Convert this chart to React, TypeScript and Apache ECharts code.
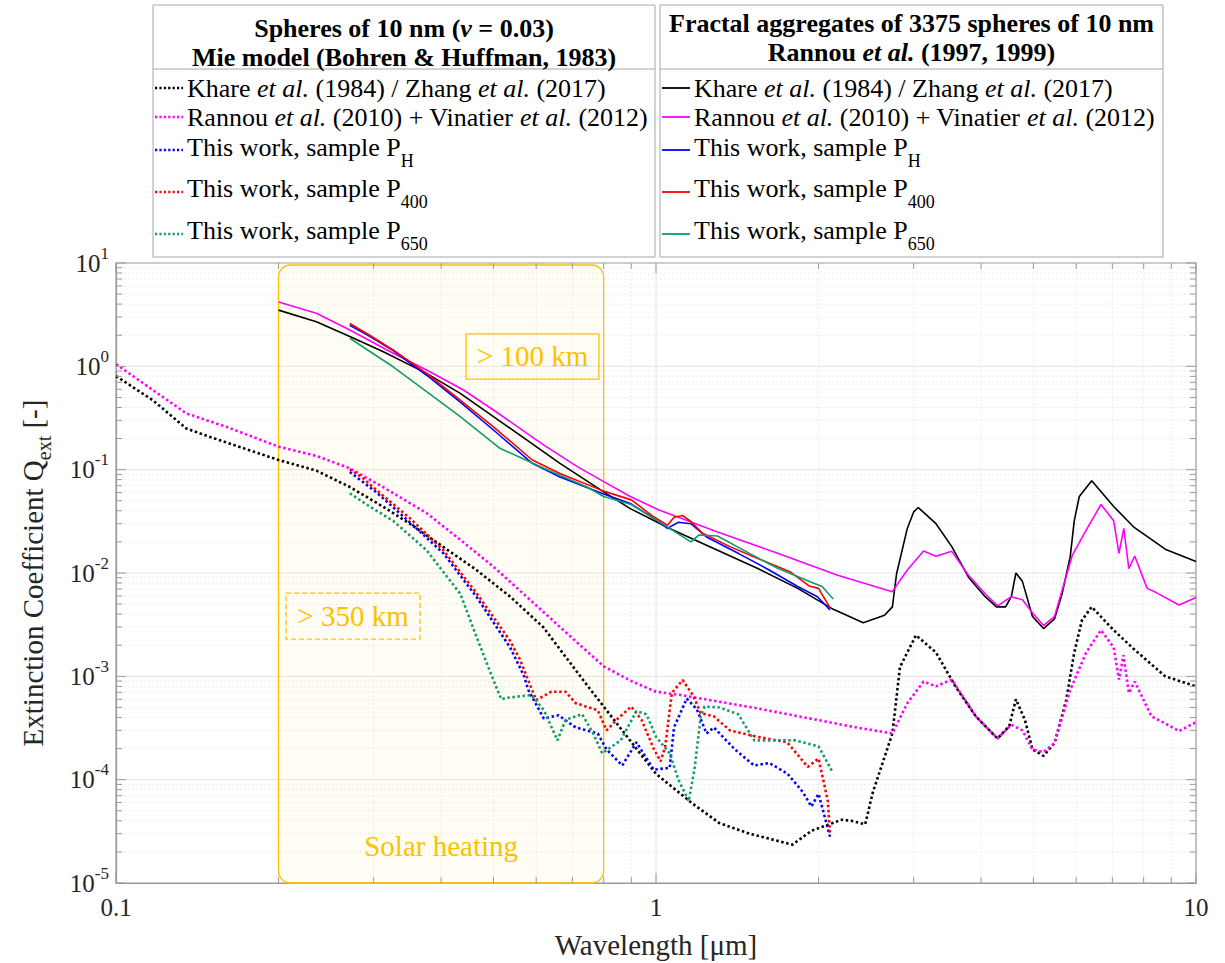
import React, { useEffect, useRef } from "react";
import * as echarts from "echarts";

const SERIF = "'Liberation Serif', 'Times New Roman', Times, serif";
const GOLD = "#FFC000";
const C_BLACK = "#000000";
const C_MAG = "#FF00FF";
const C_BLUE = "#0000FF";
const C_RED = "#FF0000";
const C_GREEN = "#139A6E";
const AXIS_C = "#9a9a9a";
const LABEL_C = "#262626";

// ---- Data: [wavelength (μm), Q_ext] ----
// Spheres (Mie) — dotted
const khareSpheres: [number, number][] = [
  [0.1, 0.805], [0.117, 0.47], [0.135, 0.25], [0.149, 0.208], [0.2, 0.124], [0.235, 0.098],
  [0.271, 0.068], [0.312, 0.044], [0.35, 0.03], [0.403, 0.018], [0.465, 0.0107], [0.537, 0.0059],
  [0.618, 0.003], [0.733, 0.00092], [0.8, 0.00051], [1.0, 0.000114], [1.167, 5.9e-5], [1.31, 3.8e-5],
  [1.49, 3.0e-5], [1.79, 2.35e-5], [1.94, 3.2e-5], [2.21, 4.1e-5], [2.3, 4.0e-5], [2.44, 3.7e-5],
  [2.52, 7.5e-5], [2.74, 2.8e-4], [2.83, 1.23e-3], [3.03, 2.5e-3], [3.3, 1.7e-3], [3.59, 7.9e-4],
  [3.91, 4.1e-4], [4.29, 2.5e-4], [4.51, 3.3e-4], [4.64, 6.0e-4], [4.82, 3.8e-4], [4.98, 1.96e-4],
  [5.22, 1.7e-4], [5.47, 2.26e-4], [5.75, 5.9e-4], [5.95, 1.7e-3], [6.15, 3.5e-3], [6.41, 4.7e-3],
  [7.04, 2.8e-3], [7.66, 1.85e-3], [8.77, 1.0e-3], [10, 8.0e-4],
];
const rannouSpheres: [number, number][] = [
  [0.1, 1.05], [0.117, 0.59], [0.135, 0.35], [0.16, 0.26], [0.2, 0.167], [0.235, 0.136],
  [0.271, 0.103], [0.312, 0.068], [0.376, 0.038], [0.434, 0.021], [0.5, 0.0115], [0.576, 0.0059],
  [0.664, 0.003], [0.8, 0.00125], [0.9, 0.0009], [1.0, 0.00071], [1.11, 0.00066], [1.54, 0.00049],
  [2.35, 0.00032], [2.74, 0.00028], [2.92, 0.00055], [3.13, 8.9e-4], [3.3, 8.0e-4], [3.53, 9.3e-4],
  [3.91, 4.1e-4], [4.29, 2.5e-4], [4.55, 3.4e-4], [4.77, 3.0e-4], [4.98, 1.96e-4], [5.22, 1.85e-4],
  [5.47, 2.26e-4], [5.85, 7.4e-4], [6.26, 1.7e-3], [6.67, 2.8e-3], [7.04, 1.9e-3], [7.2, 9.3e-4],
  [7.34, 1.6e-3], [7.51, 6.9e-4], [7.7, 8.9e-4], [8.27, 4.1e-4], [8.77, 3.5e-4], [9.3, 2.95e-4],
  [10, 3.6e-4],
];
const phSpheres: [number, number][] = [
  [0.271, 0.095], [0.304, 0.06], [0.35, 0.031], [0.404, 0.0155], [0.466, 0.0058], [0.537, 0.0019],
  [0.57, 0.001], [0.58, 0.00074], [0.62, 0.00039], [0.66, 0.00042], [0.71, 0.00032], [0.78, 0.00028],
  [0.81, 0.000196], [0.866, 0.000137], [0.92, 0.00023], [0.99, 0.000125], [1.06, 0.00013],
  [1.08, 0.00032], [1.14, 0.00061], [1.19, 0.00048], [1.24, 0.00028], [1.28, 0.00032], [1.4, 0.000196],
  [1.52, 0.000137], [1.62, 0.000145], [1.75, 0.000115], [1.87, 7.6e-5], [1.94, 5.5e-5], [2.0, 7.3e-5],
  [2.06, 4.1e-5], [2.1, 2.8e-5],
];
const p400Spheres: [number, number][] = [
  [0.271, 0.101], [0.285, 0.085], [0.304, 0.063], [0.35, 0.034], [0.404, 0.0166], [0.466, 0.0063],
  [0.537, 0.0022], [0.56, 0.00145], [0.576, 0.001], [0.6, 0.00059], [0.64, 0.00071], [0.68, 0.00071],
  [0.71, 0.00055], [0.78, 0.00047], [0.81, 0.0003], [0.85, 0.00039], [0.9, 0.00051], [0.94, 0.00038],
  [0.99, 0.0002], [1.02, 0.00015], [1.04, 0.00021], [1.07, 0.00069], [1.12, 0.00092], [1.17, 0.00066],
  [1.21, 0.00044], [1.28, 0.00041], [1.37, 0.0003], [1.54, 0.00026], [1.75, 0.00023], [1.91, 0.000133],
  [2.0, 0.00016], [2.08, 6.3e-5], [2.1, 3.0e-5],
];
const p650Spheres: [number, number][] = [
  [0.271, 0.059], [0.295, 0.044], [0.326, 0.032], [0.376, 0.0166], [0.434, 0.0063], [0.47, 0.0021],
  [0.5, 0.00092], [0.517, 0.0006], [0.53, 0.00062], [0.588, 0.00066], [0.62, 0.00047], [0.657, 0.00024],
  [0.68, 0.00038], [0.73, 0.00043], [0.765, 0.00028], [0.795, 0.00018], [0.86, 0.00024], [0.92, 0.00046],
  [0.96, 0.00043], [1.0, 0.00026], [1.06, 0.00018], [1.1, 0.0001], [1.15, 6.2e-5], [1.18, 0.000133],
  [1.21, 0.00041], [1.23, 0.00051], [1.31, 0.0005], [1.42, 0.00043], [1.52, 0.00024], [1.67, 0.00024],
  [1.81, 0.00024], [2.0, 0.00021], [2.12, 0.00012],
];

// Fractal aggregates — solid
const khareAggregates: [number, number][] = [
  [0.2, 3.5], [0.235, 2.7], [0.271, 1.94], [0.312, 1.39], [0.376, 0.855], [0.434, 0.548], [0.5, 0.326],
  [0.576, 0.194], [0.664, 0.115], [0.8, 0.061], [0.896, 0.042], [1.06, 0.027], [1.3, 0.0166],
  [1.54, 0.0111], [1.83, 0.0071], [2.13, 0.00445], [2.42, 0.0033], [2.65, 0.0039], [2.74, 0.0047],
  [2.79, 0.0099], [2.92, 0.027], [3.0, 0.039], [3.06, 0.043], [3.3, 0.03], [3.53, 0.018], [3.79, 0.0091],
  [4.07, 0.0059], [4.27, 0.0047], [4.44, 0.0047], [4.55, 0.0059], [4.64, 0.01], [4.77, 0.0083],
  [4.98, 0.0038], [5.22, 0.0029], [5.47, 0.0036], [5.65, 0.0063], [5.85, 0.0145], [5.95, 0.032],
  [6.08, 0.055], [6.41, 0.078], [7.04, 0.044], [7.66, 0.028], [8.77, 0.017], [10, 0.0129],
];
const rannouAggregates: [number, number][] = [
  [0.2, 4.2], [0.235, 3.26], [0.271, 2.25], [0.326, 1.34], [0.376, 0.92], [0.44, 0.59], [0.5, 0.378],
  [0.62, 0.173], [0.715, 0.107], [0.8, 0.0766], [0.896, 0.055], [1.01, 0.041], [1.3, 0.025],
  [1.68, 0.0155], [2.17, 0.0095], [2.74, 0.0066], [2.92, 0.0107], [3.13, 0.0163], [3.3, 0.0145],
  [3.53, 0.0162], [3.79, 0.0095], [4.07, 0.0063], [4.29, 0.0048], [4.55, 0.0059], [4.77, 0.0055],
  [4.98, 0.0041], [5.22, 0.0031], [5.47, 0.0038], [5.9, 0.0148], [6.26, 0.026], [6.67, 0.046],
  [7.04, 0.032], [7.2, 0.0155], [7.35, 0.027], [7.51, 0.011], [7.7, 0.0146], [8.12, 0.0071],
  [8.42, 0.0065], [9.3, 0.0049], [10, 0.0058],
];
const phAggregates: [number, number][] = [
  [0.271, 2.5], [0.295, 1.95], [0.326, 1.42], [0.376, 0.82], [0.434, 0.45], [0.5, 0.242], [0.59, 0.115],
  [0.664, 0.085], [0.8, 0.058], [0.896, 0.047], [0.99, 0.034], [1.05, 0.027], [1.1, 0.031], [1.16, 0.03],
  [1.24, 0.0223], [1.42, 0.0155], [1.62, 0.0107], [1.83, 0.0074], [1.99, 0.0059], [2.1, 0.0044],
];
const p400Aggregates: [number, number][] = [
  [0.271, 2.6], [0.295, 2.0], [0.326, 1.44], [0.376, 0.855], [0.434, 0.47], [0.5, 0.26], [0.59, 0.124],
  [0.664, 0.092], [0.8, 0.062], [0.9, 0.051], [0.99, 0.035], [1.05, 0.029], [1.08, 0.0347], [1.12, 0.036],
  [1.16, 0.0315], [1.22, 0.0242], [1.37, 0.018], [1.54, 0.0139], [1.77, 0.0103], [1.92, 0.0075],
  [2.0, 0.0071], [2.1, 0.0046],
];
const p650Aggregates: [number, number][] = [
  [0.271, 1.87], [0.326, 0.99], [0.376, 0.57], [0.434, 0.326], [0.514, 0.161], [0.62, 0.103],
  [0.745, 0.068], [0.8, 0.055], [0.9, 0.046], [1.06, 0.027], [1.16, 0.02], [1.2, 0.0233], [1.3, 0.0228],
  [1.49, 0.0155], [1.68, 0.0111], [1.92, 0.0083], [2.03, 0.0074], [2.13, 0.0056],
];

// Axis ranges and tick decades
const X_RANGE = [0.1, 10];
const Y_RANGE = [1e-5, 10];
const xDecades = [0.1, 1, 10];
const yDecades = [1e-5, 1e-4, 1e-3, 1e-2, 1e-1, 1, 10];
const minorDigits = [2, 3, 4, 5, 6, 7, 8, 9];

// Annotations (data coordinates)
const solarBand = [0.2, 0.8];
const box100 = { x: [0.445, 0.784], y: [2.06, 0.753], text: "> 100 km" };
const box350 = { x: [0.2065, 0.3656], y: [6.4e-3, 2.29e-3], text: "> 350 km" };
const solarLabel = { x: 0.4, y: 2.3e-5, text: "Solar heating" };

// Legend texts
const KHARE = "{n|Khare }{i|et al.}{n| (1984) / Zhang }{i|et al.}{n| (2017)}";
const RANNOU = "{n|Rannou }{i|et al.}{n| (2010) + Vinatier }{i|et al.}{n| (2012)}";
const PH = "{n|This work, sample P}{s|H}";
const P400 = "{n|This work, sample P}{s|400}";
const P650 = "{n|This work, sample P}{s|650}";
const legendItems = [
  { text: KHARE, color: C_BLACK },
  { text: RANNOU, color: C_MAG },
  { text: PH, color: C_BLUE },
  { text: P400, color: C_RED },
  { text: P650, color: C_GREEN },
];
const leftHeader = ["{b|Spheres of 10 nm (}{bi|ν}{b| = 0.03)}", "{b|Mie model (Bohren & Huffman, 1983)}"];
const rightHeader = ["{b|Fractal aggregates of 3375 spheres of 10 nm}", "{b|Rannou }{bi|et al.}{b| (1997, 1999)}"];

const DOT: any = [2.5, 2.6];

function lineSeries(name: string, data: [number, number][], color: string, dotted: boolean) {
  return {
    name,
    type: "line",
    data,
    symbol: "none",
    showSymbol: false,
    clip: true,
    z: dotted ? 2 : 3,
    lineStyle: dotted
      ? { color, width: 2.6, type: DOT, cap: "butt" }
      : { color, width: 1.6, type: "solid" },
  };
}

const richLegend = {
  n: { fontFamily: SERIF, fontSize: 26, fill: "#000" },
  i: { fontFamily: SERIF, fontSize: 26, fill: "#000", fontStyle: "italic" },
  s: { fontFamily: SERIF, fontSize: 18, fill: "#000", padding: [28, 0, 0, 0] },
  b: { fontFamily: SERIF, fontSize: 26, fill: "#000", fontWeight: "bold" },
  bi: { fontFamily: SERIF, fontSize: 26, fill: "#000", fontWeight: "bold", fontStyle: "italic" },
};

function buildLegend(x0: number, w: number, header: string[], headerY: number[], dotted: boolean) {
  const els: any[] = [];
  const top = 5, h = 252, div = 69;
  els.push({ type: "rect", shape: { x: x0, y: top, width: w, height: h }, style: { fill: "#fff", stroke: "#a6a6a6", lineWidth: 1 }, z: 20 });
  els.push({ type: "line", shape: { x1: x0, y1: div, x2: x0 + w, y2: div }, style: { stroke: "#a6a6a6", lineWidth: 1 }, z: 21 });
  header.forEach((t, k) => {
    els.push({
      type: "text", x: x0 + w / 2, y: headerY[k], z: 22,
      style: { text: t, rich: richLegend, fontFamily: SERIF, fontSize: 26, align: "center", verticalAlign: "middle", fill: "#000" },
    });
  });
  const textY = [88, 117, 147, 188, 230];
  const lineY = [88, 117, 150, 192, 234];
  legendItems.forEach((it, k) => {
    els.push({
      type: "line", z: 22,
      shape: { x1: x0 + 2, y1: lineY[k], x2: x0 + 30, y2: lineY[k] },
      style: dotted
        ? { stroke: it.color, lineWidth: 2.4, lineDash: [2.2, 2.2] }
        : { stroke: it.color, lineWidth: 1.8 },
    });
    els.push({
      type: "text", x: x0 + 34, y: textY[k], z: 22,
      style: { text: it.text, rich: richLegend, fontFamily: SERIF, fontSize: 26, align: "left", verticalAlign: "middle", fill: "#000" },
    });
  });
  return els;
}

const option: any = {
  animation: false,
  backgroundColor: "#ffffff",
  grid: { left: 116, top: 263, width: 1080, height: 620, show: true, borderColor: AXIS_C, borderWidth: 1.2, backgroundColor: "transparent" },
  xAxis: {
    type: "log", logBase: 10, min: X_RANGE[0], max: X_RANGE[1],
    axisLine: { show: true, lineStyle: { color: AXIS_C, width: 1.2 } },
    axisTick: { show: false }, splitLine: { show: false },
    axisLabel: {
      formatter: (v: number) => (v < 1 ? v.toFixed(1) : String(Math.round(v))),
      fontFamily: SERIF, fontSize: 25, color: LABEL_C, margin: 12,
    },
  },
  yAxis: {
    type: "log", logBase: 10, min: Y_RANGE[0], max: Y_RANGE[1],
    axisLine: { show: true, lineStyle: { color: AXIS_C, width: 1.2 } },
    axisTick: { show: false }, splitLine: { show: false },
    axisLabel: {
      formatter: (v: number) => `{b|10}{s|${Math.round(Math.log10(v))}}`,
      margin: 7,
      rich: {
        b: { fontFamily: SERIF, fontSize: 25, color: LABEL_C },
        s: { fontFamily: SERIF, fontSize: 17, color: LABEL_C, padding: [0, 0, 20, 0] },
      },
    },
  },
  series: [
    lineSeries("Khare spheres", khareSpheres, C_BLACK, true),
    lineSeries("Rannou spheres", rannouSpheres, C_MAG, true),
    lineSeries("PH spheres", phSpheres, C_BLUE, true),
    lineSeries("P400 spheres", p400Spheres, C_RED, true),
    lineSeries("P650 spheres", p650Spheres, C_GREEN, true),
    lineSeries("Khare aggregates", khareAggregates, C_BLACK, false),
    lineSeries("Rannou aggregates", rannouAggregates, C_MAG, false),
    lineSeries("PH aggregates", phAggregates, C_BLUE, false),
    lineSeries("P400 aggregates", p400Aggregates, C_RED, false),
    lineSeries("P650 aggregates", p650Aggregates, C_GREEN, false),
  ],
};

export default function App() {
  const ref = useRef<HTMLDivElement>(null);
  useEffect(() => {
    const chart = echarts.init(ref.current!, null, { renderer: "svg" });
    chart.setOption(option);
    const P = (x: number, y: number) =>
      chart.convertToPixel({ xAxisIndex: 0, yAxisIndex: 0 }, [x, y]) as number[];
    const [gl, gt] = P(X_RANGE[0], Y_RANGE[1]);
    const [gr, gb] = P(X_RANGE[1], Y_RANGE[0]);
    const g: any[] = [];

    // grid lines + ticks
    const hLine = (y: number, major: boolean) => {
      const py = P(1, y)[1];
      if (major) {
        if (py > gt + 1 && py < gb - 1)
          g.push({ type: "line", z: 0, shape: { x1: gl, y1: py, x2: gr, y2: py }, style: { stroke: "#e2e2e2", lineWidth: 1 } });
      } else {
        g.push({ type: "line", z: 0, shape: { x1: gl, y1: py, x2: gr, y2: py }, style: { stroke: "#ededed", lineWidth: 1, lineDash: [2, 2] } });
      }
      const len = major ? 10 : 6;
      g.push({ type: "line", z: 4, shape: { x1: gl, y1: py, x2: gl + len, y2: py }, style: { stroke: AXIS_C, lineWidth: 1 } });
      g.push({ type: "line", z: 4, shape: { x1: gr - len, y1: py, x2: gr, y2: py }, style: { stroke: AXIS_C, lineWidth: 1 } });
    };
    const vLine = (x: number, major: boolean) => {
      const px = P(x, 1)[0];
      if (major) {
        if (px > gl + 1 && px < gr - 1)
          g.push({ type: "line", z: 0, shape: { x1: px, y1: gt, x2: px, y2: gb }, style: { stroke: "#e2e2e2", lineWidth: 1 } });
      } else {
        g.push({ type: "line", z: 0, shape: { x1: px, y1: gt, x2: px, y2: gb }, style: { stroke: "#ededed", lineWidth: 1, lineDash: [2, 2] } });
      }
      const len = major ? 10 : 6;
      g.push({ type: "line", z: 4, shape: { x1: px, y1: gb, x2: px, y2: gb - len }, style: { stroke: AXIS_C, lineWidth: 1 } });
      g.push({ type: "line", z: 4, shape: { x1: px, y1: gt, x2: px, y2: gt + len }, style: { stroke: AXIS_C, lineWidth: 1 } });
    };
    yDecades.forEach((d) => {
      hLine(d, true);
      if (d < Y_RANGE[1]) minorDigits.forEach((m) => hLine(d * m, false));
    });
    xDecades.forEach((d) => {
      vLine(d, true);
      if (d < X_RANGE[1]) minorDigits.forEach((m) => vLine(d * m, false));
    });

    // Solar heating band
    const bx0 = P(solarBand[0], 1)[0];
    const bx1 = P(solarBand[1], 1)[0];
    g.push({
      type: "rect", z: 1,
      shape: { x: bx0, y: gt + 2, width: bx1 - bx0, height: gb - gt - 2, r: 12 },
      style: { fill: "rgba(255,200,0,0.045)", stroke: GOLD, lineWidth: 1.3 },
    });
    const boxEl = (b: any, dashed: boolean) => {
      const [x0, y0] = P(b.x[0], b.y[0]);
      const [x1, y1] = P(b.x[1], b.y[1]);
      g.push({
        type: "rect", z: 6,
        shape: { x: x0, y: y0, width: x1 - x0, height: y1 - y0 },
        style: { fill: "none", stroke: GOLD, lineWidth: 1.3, lineDash: dashed ? [5, 3] : null },
      });
      g.push({
        type: "text", z: 7, x: (x0 + x1) / 2, y: (y0 + y1) / 2,
        style: { text: b.text, fontFamily: SERIF, fontSize: 29, fill: GOLD, align: "center", verticalAlign: "middle" },
      });
    };
    boxEl(box100, false);
    boxEl(box350, true);
    const [sx, sy] = P(solarLabel.x, solarLabel.y);
    g.push({
      type: "text", z: 7, x: sx, y: sy,
      style: { text: solarLabel.text, fontFamily: SERIF, fontSize: 29, fill: GOLD, align: "center", verticalAlign: "middle" },
    });

    // Axis titles
    g.push({
      type: "text", z: 7, x: (gl + gr) / 2, y: gb + 62,
      style: { text: "Wavelength [μm]", fontFamily: SERIF, fontSize: 29, fill: LABEL_C, align: "center", verticalAlign: "middle" },
    });
    g.push({
      type: "text", z: 7, x: 33, y: (gt + gb) / 2, rotation: Math.PI / 2,
      style: {
        text: "{n|Extinction Coefficient Q}{s|ext}{n| [-]}",
        fontFamily: SERIF, fontSize: 29, fill: LABEL_C, align: "center", verticalAlign: "middle",
        rich: {
          n: { fontFamily: SERIF, fontSize: 29, fill: LABEL_C },
          s: { fontFamily: SERIF, fontSize: 20, fill: LABEL_C, padding: [22, 0, 0, 0] },
        },
      },
    });

    // Legends
    buildLegend(153, 502, leftHeader, [28, 57], true).forEach((e) => g.push(e));
    buildLegend(660, 503, rightHeader, [23, 52], false).forEach((e) => g.push(e));

    chart.setOption({ graphic: g });
    return () => chart.dispose();
  }, []);
  return (
    <div
      ref={ref}
      style={{ position: "fixed", left: 0, top: 0, width: 1225, height: 963, background: "#fff" }}
    />
  );
}
